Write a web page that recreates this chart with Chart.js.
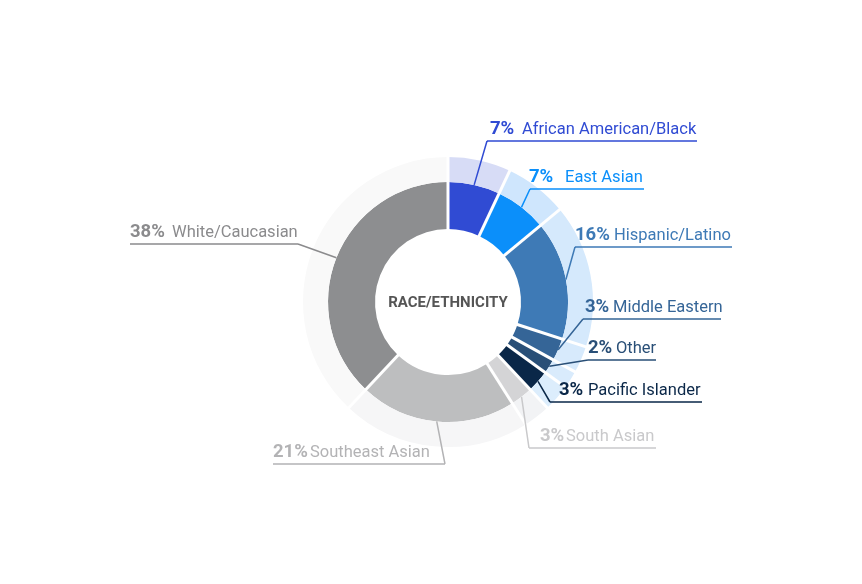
<!DOCTYPE html>
<html>
<head>
<meta charset="utf-8">
<script src="https://cdn.jsdelivr.net/npm/chart.js@4"></script>
<style>
  html, body { margin: 0; padding: 0; background: #fff; }
  canvas { display: block; }
</style>
</head>
<body>
<canvas id="chart" width="862" height="584"></canvas>
<script>
// race / ethnicity breakdown, clockwise from the top
const categories = ['African American/Black', 'East Asian', 'Hispanic/Latino', 'Middle Eastern',
  'Other', 'Pacific Islander', 'South Asian', 'Southeast Asian', 'White/Caucasian'];
const percents = [7, 7, 16, 3, 2, 3, 3, 21, 38];

const darkColors = ['#304bd3', '#0b8ffa', '#3e7ab6', '#356597', '#294f77', '#0a2748', '#d4d4d6', '#bdbebf', '#8d8e90'];
const lightColors = ['#d7dcf6', '#cfe6fd', '#d5e9fc', '#d7eafc', '#d9ebfc', '#dcedfc', '#f2f3f5', '#f6f6f7', '#f9f9f9'];
const textColors = ['#304bd3', '#0b8ffa', '#3e7ab6', '#356597', '#294f77', '#0a2748', '#c9c9cb', '#b3b3b5', '#8b8b8d'];

// label layout: [pctX, baselineY, nameX, underlineX1, underlineX2, joinX]
const labelLayout = [
  [490, 134, 522, 487, 697, 487],
  [529, 182, 565, 530, 644, 530],
  [575, 240, 614, 575, 732, 575],
  [585, 312, 613, 583, 721, 583],
  [588, 353, 616, 588, 656, 588],
  [559, 395, 588, 550, 702, 550],
  [540, 441, 566, 529, 656, 529],
  [273, 457, 310, 273, 445, 445],
  [130, 237, 172, 130, 298, 298]
];

const decorations = {
  id: 'decorations',
  afterDatasetsDraw(chart) {
    const ctx = chart.ctx;
    const meta = chart.getDatasetMeta(1);
    const outerMeta = chart.getDatasetMeta(0);
    const first = meta.data[0];
    const cx = first.x, cy = first.y;
    const rIn = first.innerRadius - 1;
    const rOut = outerMeta.data[0].outerRadius + 1;

    // white separators across both rings
    ctx.save();
    ctx.strokeStyle = '#fff';
    ctx.lineWidth = 3;
    meta.data.forEach(arc => {
      const a = arc.startAngle;
      ctx.beginPath();
      ctx.moveTo(cx + Math.cos(a) * rIn, cy + Math.sin(a) * rIn);
      ctx.lineTo(cx + Math.cos(a) * rOut, cy + Math.sin(a) * rOut);
      ctx.stroke();
    });

    // center title
    ctx.fillStyle = '#555555';
    ctx.font = 'bold 15px Roboto';
    ctx.textAlign = 'center';
    ctx.textBaseline = 'middle';
    ctx.fillText('RACE/ETHNICITY', cx, cy + 1);

    // leader lines and labels
    ctx.textAlign = 'left';
    ctx.textBaseline = 'alphabetic';
    meta.data.forEach((arc, i) => {
      const [px, by, nx, x1, x2, jx] = labelLayout[i];
      const mid = (arc.startAngle + arc.endAngle) / 2;
      const ax = cx + Math.cos(mid) * arc.outerRadius;
      const ay = cy + Math.sin(mid) * arc.outerRadius;
      const ly = by + 7;
      ctx.strokeStyle = textColors[i];
      ctx.lineWidth = 1.5;
      ctx.beginPath();
      ctx.moveTo(ax, ay);
      ctx.lineTo(jx, ly);
      ctx.moveTo(x1, ly);
      ctx.lineTo(x2, ly);
      ctx.stroke();

      ctx.fillStyle = textColors[i];
      ctx.font = 'bold 18.5px Roboto';
      ctx.fillText(percents[i] + '%', px, by);
      ctx.font = '16.5px Roboto';
      ctx.fillText(categories[i], nx, by);
    });
    ctx.restore();
  }
};

new Chart(document.getElementById('chart'), {
  type: 'doughnut',
  data: {
    labels: categories,
    datasets: [
      { data: percents, backgroundColor: lightColors, borderWidth: 0, weight: 25 },
      { data: percents, backgroundColor: darkColors, borderWidth: 0, weight: 47 }
    ]
  },
  options: {
    responsive: false,
    animation: false,
    cutout: 73,
    layout: { padding: { top: 157, bottom: 137, left: 34, right: 0 } },
    plugins: {
      legend: { display: false },
      tooltip: { enabled: false }
    }
  },
  plugins: [decorations]
});
</script>
</body>
</html>
